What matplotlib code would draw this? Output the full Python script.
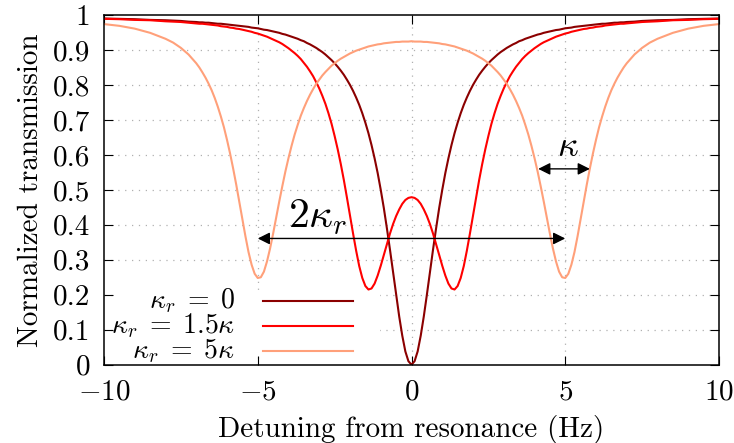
import matplotlib
matplotlib.use("Agg")
import matplotlib.pyplot as plt
from matplotlib.patches import Rectangle

plt.rcParams['font.family'] = 'serif'
plt.rcParams['font.serif'] = ['cmr10']
plt.rcParams['mathtext.fontset'] = 'cm'
plt.rcParams['axes.formatter.use_mathtext'] = True

# ---------------- data ----------------
detuning = [
    -10, -9.5, -9, -8.5, -8, -7.75, -7.5, -7.25, -7,
    -6.9, -6.8, -6.7, -6.6, -6.5, -6.4, -6.3, -6.2, -6.1, -6.0,
    -5.9, -5.8, -5.7, -5.6, -5.5, -5.4, -5.3, -5.2, -5.1, -5.0,
    -4.9, -4.8, -4.7, -4.6, -4.5, -4.4, -4.3, -4.2, -4.1, -4.0,
    -3.9, -3.8, -3.7, -3.6, -3.5, -3.4, -3.3, -3.2, -3.1, -3.0,
    -2.9, -2.8, -2.7, -2.6, -2.5, -2.4, -2.3, -2.2, -2.1, -2.0,
    -1.9, -1.8, -1.7, -1.6, -1.5, -1.4, -1.3, -1.2, -1.1, -1.0,
    -0.9, -0.8, -0.7, -0.6, -0.5, -0.4, -0.3, -0.2, -0.1,
    0,
    0.1, 0.2, 0.3, 0.4, 0.5, 0.6, 0.7, 0.8, 0.9, 1.0,
    1.1, 1.2, 1.3, 1.4, 1.5, 1.6, 1.7, 1.8, 1.9, 2.0,
    2.1, 2.2, 2.3, 2.4, 2.5, 2.6, 2.7, 2.8, 2.9, 3.0,
    3.1, 3.2, 3.3, 3.4, 3.5, 3.6, 3.7, 3.8, 3.9, 4.0,
    4.1, 4.2, 4.3, 4.4, 4.5, 4.6, 4.7, 4.8, 4.9, 5.0,
    5.1, 5.2, 5.3, 5.4, 5.5, 5.6, 5.7, 5.8, 5.9, 6.0,
    6.1, 6.2, 6.3, 6.4, 6.5, 6.6, 6.7, 6.8, 6.9,
    7, 7.25, 7.5, 7.75, 8, 8.5, 9, 9.5, 10,
]

trans_kr0 = [
    0.990, 0.989, 0.988, 0.986, 0.985, 0.984, 0.983, 0.981, 0.980,
    0.979, 0.979, 0.978, 0.978, 0.977, 0.976, 0.975, 0.975, 0.974, 0.973,
    0.972, 0.971, 0.970, 0.969, 0.968, 0.967, 0.966, 0.964, 0.963, 0.962,
    0.960, 0.958, 0.957, 0.955, 0.953, 0.951, 0.949, 0.946, 0.944, 0.941,
    0.938, 0.935, 0.932, 0.928, 0.925, 0.920, 0.916, 0.911, 0.906, 0.900,
    0.894, 0.887, 0.879, 0.871, 0.862, 0.852, 0.841, 0.829, 0.815, 0.800,
    0.783, 0.764, 0.743, 0.719, 0.692, 0.662, 0.628, 0.590, 0.548, 0.500,
    0.448, 0.390, 0.329, 0.265, 0.200, 0.138, 0.083, 0.038, 0.010,
    0.000,
    0.010, 0.038, 0.083, 0.138, 0.200, 0.265, 0.329, 0.390, 0.448, 0.500,
    0.548, 0.590, 0.628, 0.662, 0.692, 0.719, 0.743, 0.764, 0.783, 0.800,
    0.815, 0.829, 0.841, 0.852, 0.862, 0.871, 0.879, 0.887, 0.894, 0.900,
    0.906, 0.911, 0.916, 0.920, 0.925, 0.928, 0.932, 0.935, 0.938, 0.941,
    0.944, 0.946, 0.949, 0.951, 0.953, 0.955, 0.957, 0.958, 0.960, 0.962,
    0.963, 0.964, 0.966, 0.967, 0.968, 0.969, 0.970, 0.971, 0.972, 0.973,
    0.974, 0.975, 0.975, 0.976, 0.977, 0.978, 0.978, 0.979, 0.979,
    0.980, 0.981, 0.983, 0.984, 0.985, 0.986, 0.988, 0.989, 0.990,
]

trans_kr15 = [
    0.989, 0.988, 0.986, 0.985, 0.982, 0.981, 0.980, 0.978, 0.976,
    0.975, 0.975, 0.974, 0.973, 0.972, 0.971, 0.970, 0.968, 0.967, 0.966,
    0.964, 0.963, 0.961, 0.960, 0.958, 0.956, 0.954, 0.952, 0.949, 0.947,
    0.944, 0.941, 0.938, 0.934, 0.930, 0.926, 0.922, 0.917, 0.911, 0.905,
    0.898, 0.891, 0.883, 0.874, 0.863, 0.852, 0.839, 0.825, 0.808, 0.790,
    0.769, 0.746, 0.719, 0.689, 0.654, 0.616, 0.574, 0.528, 0.478, 0.426,
    0.375, 0.326, 0.282, 0.248, 0.225, 0.215, 0.218, 0.232, 0.255, 0.283,
    0.314, 0.345, 0.375, 0.402, 0.425, 0.444, 0.460, 0.471, 0.477,
    0.479,
    0.477, 0.471, 0.460, 0.444, 0.425, 0.402, 0.375, 0.345, 0.314, 0.283,
    0.255, 0.232, 0.218, 0.215, 0.225, 0.248, 0.282, 0.326, 0.375, 0.426,
    0.478, 0.528, 0.574, 0.616, 0.654, 0.689, 0.719, 0.746, 0.769, 0.790,
    0.808, 0.825, 0.839, 0.852, 0.863, 0.874, 0.883, 0.891, 0.898, 0.905,
    0.911, 0.917, 0.922, 0.926, 0.930, 0.934, 0.938, 0.941, 0.944, 0.947,
    0.949, 0.952, 0.954, 0.956, 0.958, 0.960, 0.961, 0.963, 0.964, 0.966,
    0.967, 0.968, 0.970, 0.971, 0.972, 0.973, 0.974, 0.975, 0.975,
    0.976, 0.978, 0.980, 0.981, 0.982, 0.985, 0.986, 0.988, 0.989,
]

trans_kr5 = [
    0.974, 0.969, 0.961, 0.949, 0.932, 0.921, 0.906, 0.887, 0.862,
    0.850, 0.836, 0.821, 0.804, 0.785, 0.763, 0.738, 0.710, 0.679, 0.643,
    0.604, 0.561, 0.515, 0.466, 0.416, 0.367, 0.322, 0.286, 0.260, 0.248,
    0.250, 0.266, 0.295, 0.332, 0.375, 0.421, 0.467, 0.511, 0.553, 0.591,
    0.626, 0.658, 0.686, 0.712, 0.734, 0.754, 0.772, 0.788, 0.803, 0.815,
    0.827, 0.837, 0.846, 0.855, 0.862, 0.869, 0.875, 0.880, 0.885, 0.890,
    0.894, 0.898, 0.901, 0.904, 0.907, 0.910, 0.912, 0.914, 0.916, 0.917,
    0.919, 0.920, 0.921, 0.922, 0.923, 0.923, 0.924, 0.924, 0.924,
    0.925,
    0.924, 0.924, 0.924, 0.923, 0.923, 0.922, 0.921, 0.920, 0.919, 0.917,
    0.916, 0.914, 0.912, 0.910, 0.907, 0.904, 0.901, 0.898, 0.894, 0.890,
    0.885, 0.880, 0.875, 0.869, 0.862, 0.855, 0.846, 0.837, 0.827, 0.815,
    0.803, 0.788, 0.772, 0.754, 0.734, 0.712, 0.686, 0.658, 0.626, 0.591,
    0.553, 0.511, 0.467, 0.421, 0.375, 0.332, 0.295, 0.266, 0.250, 0.248,
    0.260, 0.286, 0.322, 0.367, 0.416, 0.466, 0.515, 0.561, 0.604, 0.643,
    0.679, 0.710, 0.738, 0.763, 0.785, 0.804, 0.821, 0.836, 0.850,
    0.862, 0.887, 0.906, 0.921, 0.932, 0.949, 0.961, 0.969, 0.974,
]

series = [trans_kr0, trans_kr15, trans_kr5]
labels = [r'$\kappa_r\;=\;0$', r'$\kappa_r\;=\;1.5\kappa$', r'$\kappa_r\;=\;5\kappa$']
colors = ['#8b0000', '#ff0000', '#ffa07a']

x_ticks = [-10, -5, 0, 5, 10]
y_ticks = [0, 0.1, 0.2, 0.3, 0.4, 0.5, 0.6, 0.7, 0.8, 0.9, 1.0]
y_tick_labels = ['0', '0.1', '0.2', '0.3', '0.4', '0.5', '0.6', '0.7', '0.8', '0.9', '1']

# annotation values
kappa_r_span = (-5, 5)      # 2*kappa_r arrow ends
kappa_r_level = 0.361
kappa_span = (4.12, 5.8)    # kappa arrow ends
kappa_level = 0.56

# ---------------- figure ----------------
fig = plt.figure(figsize=(7.34, 4.43), dpi=100)
ax = fig.add_axes([104/734, 1-364.7/443, 615/734, 349.7/443])
FS = 21

gk = dict(color='#b0b0b0', lw=0.9, ls=(0, (1, 4.5)), zorder=0.5)
for yv in y_ticks[1:-1]:
    ax.axhline(yv, **gk)
for xv in x_ticks[1:-1]:
    ax.axvline(xv, **gk)
# opaque key area (hides the grid behind the legend)
ax.add_patch(Rectangle((0.015, 0.026), 0.449-0.015, 0.215-0.026, transform=ax.transAxes,
                       facecolor='white', edgecolor='none', zorder=1))

for yy, c in zip(series, colors):
    ax.plot(detuning, yy, color=c, lw=1.5, zorder=2, solid_joinstyle='round')

ax.set_xlim(-10, 10)
ax.set_ylim(0, 1)
ax.set_xticks(x_ticks)
ax.set_yticks(y_ticks)
ax.set_yticklabels(y_tick_labels)
ax.tick_params(direction='in', length=6.5, width=0.8, top=True, right=True, labelsize=FS)
ax.tick_params(axis='y', pad=10)
ax.tick_params(axis='x', pad=10.5)
for s in ax.spines.values():
    s.set_linewidth(1.1)
ax.set_xlabel('Detuning from resonance (Hz)', fontsize=FS, labelpad=7)
ax.set_ylabel('Normalized transmission', fontsize=FS, labelpad=6)

# key: labels right-aligned, sample lines to their right
rows = [(0.183, 0.161), (0.112, 0.090), (0.040, 0.018)]
for (ly, ty), lab, c in zip(rows, labels, colors):
    ax.plot([0.2585, 0.4049], [ly, ly], transform=ax.transAxes, color=c, lw=1.5, zorder=3)
    ax.text(0.213, ty, lab, transform=ax.transAxes, ha='right', va='baseline', fontsize=20, zorder=3)

arrow = dict(arrowstyle='<|-|>', color='black', lw=1.0, mutation_scale=18, shrinkA=0, shrinkB=0)
ax.annotate('', xy=(kappa_r_span[0], kappa_r_level), xytext=(kappa_r_span[1], kappa_r_level),
            arrowprops=arrow, zorder=4)
ax.text(-3.05, 0.39, r'$2\kappa_r$', fontsize=30, ha='center', va='baseline')
ax.annotate('', xy=(kappa_span[0], kappa_level), xytext=(kappa_span[1], kappa_level),
            arrowprops=arrow, zorder=4)
ax.text(5.07, 0.598, r'$\kappa$', fontsize=26, ha='center', va='baseline')

fig.savefig("out.png")
